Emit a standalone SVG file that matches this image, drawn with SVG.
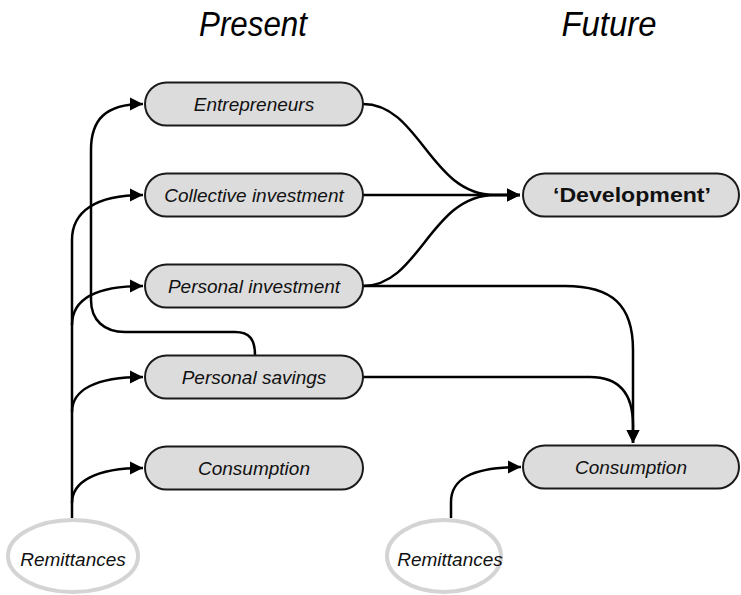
<svg xmlns="http://www.w3.org/2000/svg" width="741" height="595" viewBox="0 0 741 595">
<style>
.node rect{fill:#dcdcdc;stroke:#1a1a1a;stroke-width:2}
.node text{font-family:"Liberation Sans",Arial,sans-serif;font-style:italic;font-size:19px;fill:#111;text-anchor:middle}
.node text.bold{font-style:normal;font-weight:bold;font-size:21px}
.src ellipse{fill:#fff;stroke:#d4d4d4;stroke-width:4}
.src text{font-family:"Liberation Sans",Arial,sans-serif;font-style:italic;font-size:19px;fill:#111;text-anchor:middle}
.title{font-family:"Liberation Sans",Arial,sans-serif;font-style:italic;font-size:35px;fill:#000;text-anchor:middle}
#connectors path{fill:none;stroke:#000;stroke-width:2.5}
</style>
<defs>
<marker id="arr" markerUnits="userSpaceOnUse" markerWidth="13" markerHeight="14" refX="13" refY="7" orient="auto">
<path d="M0,0.5 L13,7 L0,13.5 Z" fill="#000"/>
</marker>
</defs>
<rect width="741" height="595" fill="#fff"/>
<text class="title" x="253" y="36" textLength="108" lengthAdjust="spacingAndGlyphs">Present</text>
<text class="title" x="609" y="36" textLength="95" lengthAdjust="spacingAndGlyphs">Future</text>

<g id="connectors">
<path d="M72,518 V240 C72,212 95,195 143,195" marker-end="url(#arr)"/>
<path d="M72,325 C72,300 95,286 143,286" marker-end="url(#arr)"/>
<path d="M72,412 C72,390 95,377 143,377" marker-end="url(#arr)"/>
<path d="M72,503 C72,482 95,468 143,468" marker-end="url(#arr)"/>
<path d="M255,355 C255,340 250,332 235,332 H125 C104,332 91,320 91,300 V150 C91,120 105,104 143,104" marker-end="url(#arr)"/>
<path d="M363,104 C420,104 430,195 495,195 L520,195" marker-end="url(#arr)"/>
<path d="M363,195 H520" marker-end="url(#arr)"/>
<path d="M363,286 C420,286 430,195 495,195 L520,195" marker-end="url(#arr)"/>
<path d="M363,286 H565 C612,286 633,305 633,350 V443" marker-end="url(#arr)"/>
<path d="M363,377 H590 C620,377 633,395 633,425 V443" marker-end="url(#arr)"/>
<path d="M451,518 V502 C451,480 470,467 521,467" marker-end="url(#arr)"/>
</g>

<g id="n-entrepreneurs" class="node"><rect x="145" y="82.5" width="218" height="43" rx="21.5"/><text x="254" y="111">Entrepreneurs</text></g>
<g id="n-collective" class="node"><rect x="145" y="173.5" width="218" height="43" rx="21.5"/><text x="254" y="202">Collective investment</text></g>
<g id="n-personal-investment" class="node"><rect x="145" y="264.5" width="218" height="43" rx="21.5"/><text x="254" y="293">Personal investment</text></g>
<g id="n-personal-savings" class="node"><rect x="145" y="355.5" width="218" height="43" rx="21.5"/><text x="254" y="384">Personal savings</text></g>
<g id="n-consumption-present" class="node"><rect x="145" y="446.5" width="218" height="43" rx="21.5"/><text x="254" y="475">Consumption</text></g>
<g id="n-development" class="node"><rect x="523" y="173.5" width="216" height="43" rx="21.5"/><text class="bold" x="632" y="202" textLength="158" lengthAdjust="spacingAndGlyphs">‘Development’</text></g>
<g id="n-consumption-future" class="node"><rect x="523" y="445.5" width="216" height="43" rx="21.5"/><text x="631" y="474">Consumption</text></g>
<g id="n-remittances-present" class="src"><ellipse cx="73" cy="556" rx="65" ry="36"/><text x="73" y="566">Remittances</text></g>
<g id="n-remittances-future" class="src"><ellipse cx="444" cy="556" rx="57" ry="36"/><text x="450" y="566">Remittances</text></g>
</svg>
